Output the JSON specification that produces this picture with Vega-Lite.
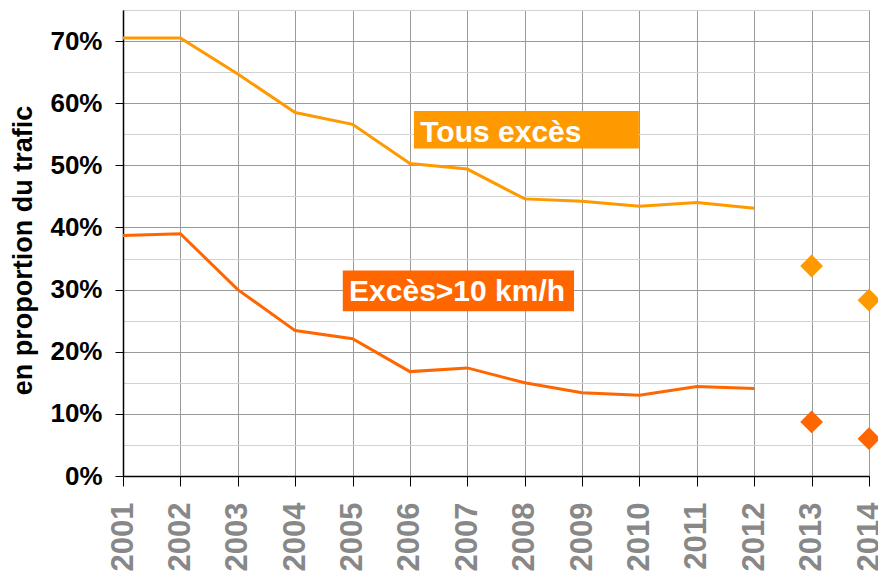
{
  "$schema": "https://vega.github.io/schema/vega-lite/v6.json",
  "width": 746,
  "height": 466,
  "autosize": {"type": "none"},
  "padding": {"left": 123, "top": 10, "right": 9, "bottom": 99},
  "background": "white",
  "config": {
    "view": {"stroke": "#999999", "strokeWidth": 1},
    "font": "Liberation Sans"
  },
  "datasets": {
    "obs": [
      {"year": 2001, "value": 0.705, "series": "Tous excès"},
      {"year": 2002, "value": 0.705, "series": "Tous excès"},
      {"year": 2003, "value": 0.647, "series": "Tous excès"},
      {"year": 2004, "value": 0.585, "series": "Tous excès"},
      {"year": 2005, "value": 0.566, "series": "Tous excès"},
      {"year": 2006, "value": 0.503, "series": "Tous excès"},
      {"year": 2007, "value": 0.494, "series": "Tous excès"},
      {"year": 2008, "value": 0.446, "series": "Tous excès"},
      {"year": 2009, "value": 0.442, "series": "Tous excès"},
      {"year": 2010, "value": 0.434, "series": "Tous excès"},
      {"year": 2011, "value": 0.440, "series": "Tous excès"},
      {"year": 2012, "value": 0.431, "series": "Tous excès"},
      {"year": 2001, "value": 0.387, "series": "Excès>10 km/h"},
      {"year": 2002, "value": 0.390, "series": "Excès>10 km/h"},
      {"year": 2003, "value": 0.300, "series": "Excès>10 km/h"},
      {"year": 2004, "value": 0.234, "series": "Excès>10 km/h"},
      {"year": 2005, "value": 0.221, "series": "Excès>10 km/h"},
      {"year": 2006, "value": 0.168, "series": "Excès>10 km/h"},
      {"year": 2007, "value": 0.174, "series": "Excès>10 km/h"},
      {"year": 2008, "value": 0.150, "series": "Excès>10 km/h"},
      {"year": 2009, "value": 0.134, "series": "Excès>10 km/h"},
      {"year": 2010, "value": 0.130, "series": "Excès>10 km/h"},
      {"year": 2011, "value": 0.144, "series": "Excès>10 km/h"},
      {"year": 2012, "value": 0.141, "series": "Excès>10 km/h"}
    ],
    "proj": [
      {"year": 2013, "value": 0.338, "series": "Tous excès"},
      {"year": 2014, "value": 0.283, "series": "Tous excès"},
      {"year": 2013, "value": 0.087, "series": "Excès>10 km/h"},
      {"year": 2014, "value": 0.060, "series": "Excès>10 km/h"}
    ],
    "boxes": [
      {"year": 2006.07, "year2": 2009.99, "value": 0.5876, "value2": 0.5269, "series": "Tous excès"},
      {"year": 2004.83, "year2": 2008.86, "value": 0.3306, "value2": 0.2650, "series": "Excès>10 km/h"}
    ],
    "texts": [
      {"year": 2006.18, "value": 0.538, "label": "Tous excès"},
      {"year": 2004.94, "value": 0.281, "label": "Excès>10 km/h"}
    ]
  },
  "encoding": {
    "x": {
      "field": "year",
      "type": "quantitative",
      "scale": {"domain": [2001, 2014], "nice": false, "zero": false},
      "axis": {
        "values": [2001, 2002, 2003, 2004, 2005, 2006, 2007, 2008, 2009, 2010, 2011, 2012, 2013, 2014],
        "format": "d",
        "title": null,
        "grid": true,
        "gridColor": "#9a9a9a",
        "gridWidth": 1,
        "tickColor": "black",
        "tickSize": 10,
        "domainColor": "black",
        "domainWidth": 1.5,
        "labelAngle": -90,
        "labelAlign": "right",
        "labelBaseline": "middle",
        "labelFont": "Liberation Sans",
        "labelFontSize": 31,
        "labelFontWeight": "bold",
        "labelColor": "#888888",
        "labelPadding": 16,
        "labelFlush": false,
        "labelOverlap": false
      }
    },
    "y": {
      "field": "value",
      "type": "quantitative",
      "scale": {"domain": [0, 0.75], "nice": false},
      "axis": {
        "values": [0, 0.05, 0.1, 0.15, 0.2, 0.25, 0.3, 0.35, 0.4, 0.45, 0.5, 0.55, 0.6, 0.65, 0.7, 0.75],
        "format": ".0%",
        "grid": true,
        "gridColor": {"condition": {"test": "round(datum.value*100) % 10 === 0", "value": "#9a9a9a"}, "value": "#d2d2d2"},
        "tickOpacity": {"condition": {"test": "round(datum.value*100) % 10 === 0", "value": 1}, "value": 0},
        "labelExpr": "round(datum.value*100) % 10 === 0 ? datum.label : ''",
        "tickColor": "black",
        "tickSize": 8,
        "domainColor": "black",
        "domainWidth": 1.5,
        "labelFont": "Liberation Sans",
        "labelFontSize": 26,
        "labelFontWeight": "bold",
        "labelColor": "black",
        "labelPadding": 13,
        "labelFlush": false,
        "labelOverlap": false,
        "title": "en proportion du trafic",
        "titleFont": "Liberation Sans",
        "titleFontSize": 27,
        "titleFontWeight": "bold",
        "titleColor": "black",
        "titleAngle": -90,
        "titleAlign": "center",
        "titleBaseline": "alphabetic",
        "titleX": -92,
        "titleY": 240
      }
    }
  },
  "layer": [
    {
      "data": {"name": "boxes"},
      "mark": {"type": "rect"},
      "encoding": {
        "x2": {"field": "year2"},
        "y2": {"field": "value2"},
        "color": {
          "field": "series",
          "type": "nominal",
          "scale": {"domain": ["Tous excès", "Excès>10 km/h"], "range": ["#FF9900", "#FF6600"]},
          "legend": null
        }
      }
    },
    {
      "data": {"name": "texts"},
      "mark": {"type": "text", "align": "left", "baseline": "alphabetic", "font": "Liberation Sans", "fontSize": 30, "fontWeight": "bold", "color": "white"},
      "encoding": {
        "text": {"field": "label", "type": "nominal"}
      }
    },
    {
      "data": {"name": "obs"},
      "mark": {"type": "line", "strokeWidth": 3},
      "encoding": {
        "color": {
          "field": "series",
          "type": "nominal",
          "scale": {"domain": ["Tous excès", "Excès>10 km/h"], "range": ["#FF9900", "#FF6600"]},
          "legend": null
        }
      }
    },
    {
      "data": {"name": "proj"},
      "mark": {"type": "point", "shape": "diamond", "size": 520, "filled": true, "opacity": 1},
      "encoding": {
        "color": {
          "field": "series",
          "type": "nominal",
          "scale": {"domain": ["Tous excès", "Excès>10 km/h"], "range": ["#FF9900", "#FF6600"]},
          "legend": null
        }
      }
    }
  ]
}
